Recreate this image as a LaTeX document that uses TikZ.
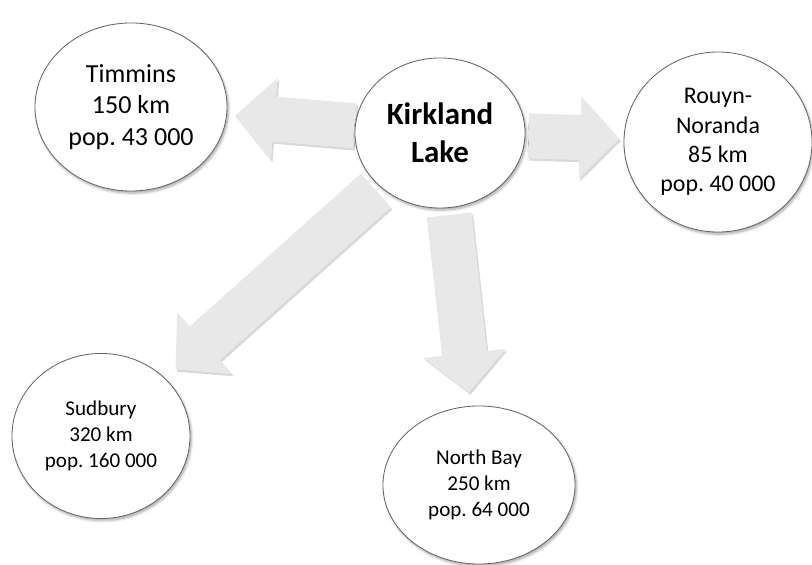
\documentclass[tikz,border=0pt]{standalone}
\usepackage{fontspec}
\setmainfont{Carlito}
\frenchspacing
\usetikzlibrary{arrows.meta,shapes.geometric,shadows.blur,backgrounds}

\tikzstyle{town}=[shape=ellipse,draw=black!60,line width=0.6pt,fill=white,align=center,inner sep=0pt,
  blur shadow={shadow xshift=1pt,shadow yshift=-1.5pt,shadow blur steps=6,shadow blur radius=1.8pt,shadow opacity=35}]
\tikzstyle{bigarrow}=[line width=32pt,draw=black!9,-{Triangle[width=57pt,length=28pt]}]
\tikzstyle{arrowshadow}=[line width=32pt,draw=black!15,-{Triangle[width=57pt,length=28pt]},
  transform canvas={shift={(1.2pt,-1.6pt)}}]

\begin{document}
\begin{tikzpicture}[x=0.025cm,y=-0.025cm]
      \useasboundingbox (0,0) rectangle (812,565);

      \foreach \nodename/\x/\y/\w/\h/\fnt/\txt in {
        tim/131/107/4.8/4.2/{\fontsize{18.5pt}{22.6pt}\selectfont}/{Timmins\\150 km\\pop. 43 000},
        kl/440/133/4.25/3.75/{\fontsize{22pt}{26.8pt}\selectfont\bfseries}/{Kirkland\\Lake},
        rn/718/142/4.7/4.5/{\fontsize{17pt}{20.8pt}\selectfont}/{Rouyn-\\Noranda\\85 km\\pop. 40 000},
        sud/101/436/4.45/4.125/{\fontsize{15pt}{18.3pt}\selectfont}/{Sudbury\\320 km\\pop. 160 000},
        nb/479/485/4.8/3.95/{\fontsize{15pt}{18.3pt}\selectfont}/{North Bay\\250 km\\pop. 64 000}}
      {
        \node (\nodename) at (\x,\y) [town,font=\fnt,minimum width=\w cm,minimum height=\h cm] {\txt};
      }
      %% arrows behind the towns
      \begin{pgfonlayer}{background}
      \foreach \startnode/\endnode/\pre/\post in {kl/tim/0pt/5.7pt,
        kl/rn/2pt/3pt, kl/nb/5pt/9.5pt, kl/sud/4pt/9.5pt}
      {
        \path[arrowshadow,shorten <=\pre,shorten >=\post] (\startnode) -- (\endnode);
        \path[bigarrow,shorten <=\pre,shorten >=\post] (\startnode) -- (\endnode);
      }
      \end{pgfonlayer}
\end{tikzpicture}
\end{document}
